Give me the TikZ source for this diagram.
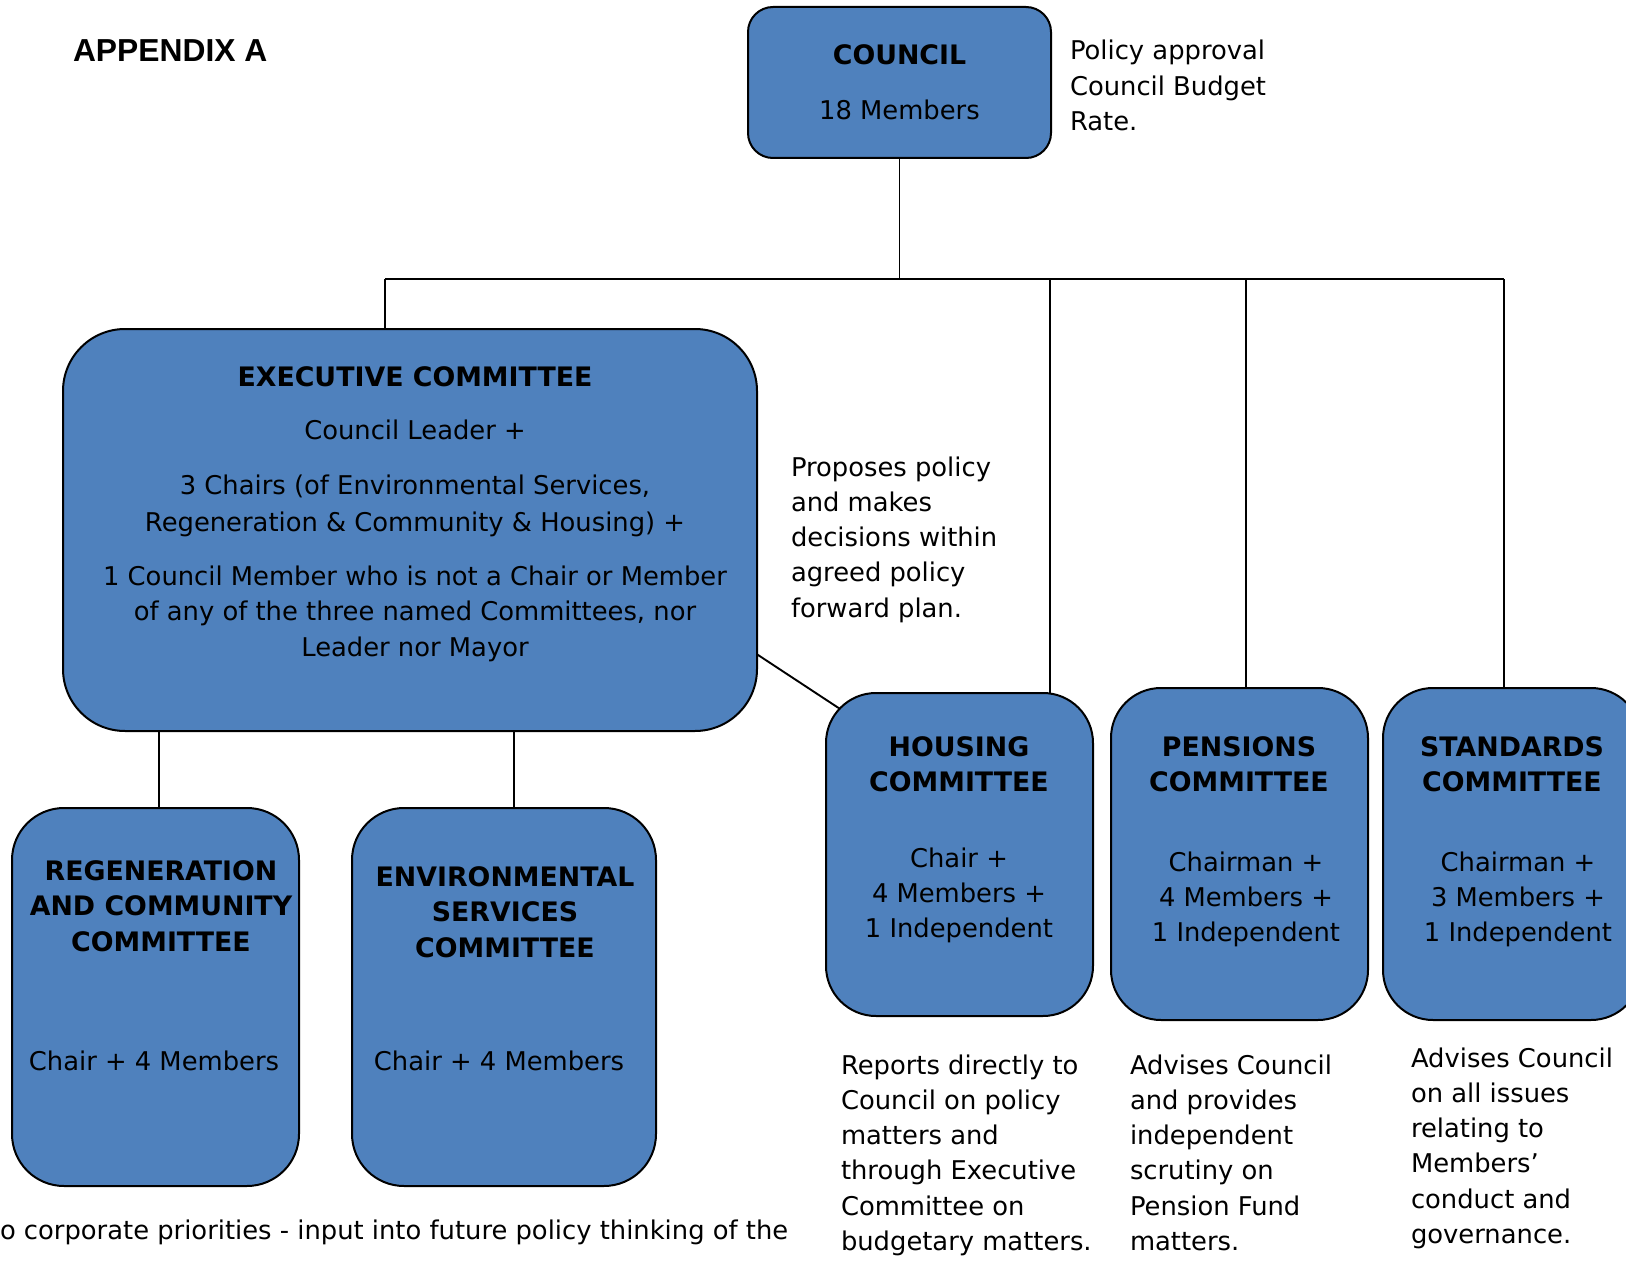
\documentclass[tikz,border=0pt]{standalone}
\usepackage{fontspec}
\setmainfont{DejaVu Sans}
\newfontfamily\appfont{Liberation Sans}
\usetikzlibrary{backgrounds}
\definecolor{boxblue}{HTML}{4F81BD}
\begin{document}
\begin{tikzpicture}[x=1pt,y=-1pt,
  box/.style={draw=black, line width=2pt, fill=boxblue, inner sep=0pt, outer sep=0pt},
  txt/.style={inner sep=0pt, outer sep=0pt, anchor=base, align=center, font=\fontsize{25.8}{35.3}\selectfont},
  ttl/.style={txt, font=\fontsize{26.8}{35.3}\selectfont\bfseries},
  lft/.style={txt, anchor=base west, align=left},
  conn/.style={line width=1.9pt}]
\useasboundingbox (0,0) rectangle (1626,1279);
\clip (0,0) rectangle (1626,1279);

% boxes
\node[box, minimum width=303pt, minimum height=151pt, rounded corners=25pt] (council) at (899.5,82.5) {};
\node[box, minimum width=694pt, minimum height=402pt, rounded corners=62pt] (exec) at (410,530) {};
\node[box, minimum width=287pt, minimum height=378pt, rounded corners=52pt] (regen) at (155.5,997) {};
\node[box, minimum width=304pt, minimum height=378pt, rounded corners=52pt] (env) at (504,997) {};
\node[box, minimum width=267pt, minimum height=323pt, rounded corners=50pt] (housing) at (959.5,854.5) {};
\node[box, minimum width=257pt, minimum height=332pt, rounded corners=50pt] (pensions) at (1239.5,854) {};
\node[box, minimum width=258pt, minimum height=332pt, rounded corners=50pt] (standards) at (1512,854) {};

% texts (multi-line nodes are placed by the baseline of their last line)
\node[lft, font=\appfont\bfseries\fontsize{31.8}{36}\selectfont] (app) at (73,62) {APPENDIX A};
\node[ttl] (councilT) at (899.5,65) {COUNCIL};
\node[txt] (councilM) at (899.5,120) {18 Members};
\node[lft] (policy) at (1070,130.6) {Policy approval\\Council Budget\\Rate.};

\node[ttl] (execT) at (415,386) {EXECUTIVE COMMITTEE};
\node[txt] (execL) at (415,439) {Council Leader +};
\node[txt, font=\fontsize{25.8}{37}\selectfont] (execC) at (415,531) {3 Chairs (of Environmental Services,\\Regeneration \& Community \& Housing) +};
\node[txt, font=\fontsize{25.8}{35.5}\selectfont] (execM) at (415,656) {1 Council Member who is not a Chair or Member\\of any of the three named Committees, nor\\Leader nor Mayor};

\node[lft] (proposes) at (791,617.2) {Proposes policy\\and makes\\decisions within\\agreed policy\\forward plan.};

\node[ttl, font=\fontsize{26.8}{35.5}\selectfont\bfseries] (regenT) at (161,951) {REGENERATION\\AND COMMUNITY\\COMMITTEE};
\node[txt] (regenM) at (154,1070) {Chair + 4 Members};
\node[ttl, font=\fontsize{26.8}{35.5}\selectfont\bfseries] (envT) at (505,957) {ENVIRONMENTAL\\SERVICES\\COMMITTEE};
\node[txt] (envM) at (499,1070) {Chair + 4 Members};

\node[ttl] (housingT) at (959,791.3) {HOUSING\\COMMITTEE};
\node[txt] (housingM) at (959,937.6) {Chair +\\4 Members +\\1 Independent};
\node[ttl] (pensionsT) at (1239,791.3) {PENSIONS\\COMMITTEE};
\node[txt] (pensionsM) at (1246,941.6) {Chairman +\\4 Members +\\1 Independent};
\node[ttl] (standardsT) at (1512,791.3) {STANDARDS\\COMMITTEE};
\node[txt] (standardsM) at (1518,941.6) {Chairman +\\3 Members +\\1 Independent};

\node[lft] (housingD) at (841,1250.5) {Reports directly to\\Council on policy\\matters and\\through Executive\\Committee on\\budgetary matters.};
\node[lft] (pensionsD) at (1130,1250.5) {Advises Council\\and provides\\independent\\scrutiny on\\Pension Fund\\matters.};
\node[lft] (standardsD) at (1411,1243.5) {Advises Council\\on all issues\\relating to\\Members’\\conduct and\\governance.};
\node[lft] (bottom) at (0,1239) {o corporate priorities - input into future policy thinking of the};

% connectors
\begin{pgfonlayer}{background}
\coordinate (busL) at (385,279);
\coordinate (busR) at (1504,279);
\coordinate (tH) at (1050,279);
\coordinate (tP) at (1246,279);
\coordinate (xR) at (159,760);
\coordinate (xE) at (514,760);
\coordinate (dA) at (700,616.8);
\coordinate (dB) at (900,748.4);
\draw[conn] (busL) -- (busR);
\draw[conn] (council.south) -- (council.south |- busL);
\draw[conn] (busL) -- (busL |- exec.center);
\draw[conn] (tH) -- (tH |- housing.center);
\draw[conn] (tP) -- (tP |- pensions.center);
\draw[conn] (busR) -- (busR |- standards.center);
\draw[conn] (xR |- exec.center) -- (xR |- regen.center);
\draw[conn] (xE |- exec.center) -- (xE |- env.center);
\draw[conn] (dA) -- (dB);
\end{pgfonlayer}
\end{tikzpicture}
\end{document}
